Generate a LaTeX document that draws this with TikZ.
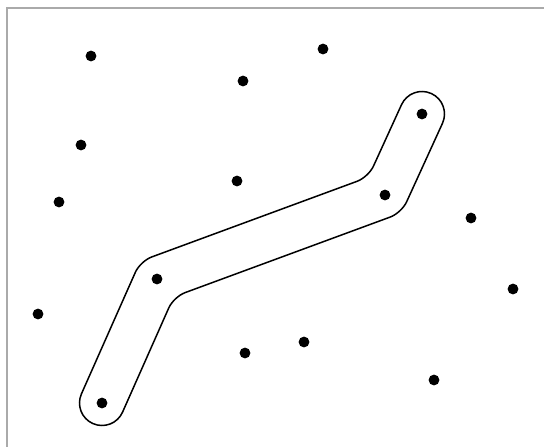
\documentclass[tikz,border=0pt]{standalone}
\usepackage{tikz}
\usetikzlibrary{calc}
\definecolor{frameline}{RGB}{170,170,170}

\begin{document}
\begin{tikzpicture}[x=1pt,y=1pt]
	\def\r{22.5pt}
	\def\dotr{5.4}
	\useasboundingbox (0,0) rectangle (544,447);
	% frame
	\draw[frameline, line width=1.4pt] (7,0) -- (7,439) -- (544,439);

	% path points
	\coordinate (A) at (102,44);
	\coordinate (B) at (157,168);
	\coordinate (C) at (385,252);
	\coordinate (D) at (422,333);

	% offset lines, left (upper) side
	\coordinate (L1s) at ($(A)!\r!90:(B)$);
	\coordinate (L1e) at ($(B)!\r!-90:(A)$);
	\coordinate (L2s) at ($(B)!\r!90:(C)$);
	\coordinate (L2e) at ($(C)!\r!-90:(B)$);
	\coordinate (L3s) at ($(C)!\r!90:(D)$);
	\coordinate (L3e) at ($(D)!\r!-90:(C)$);
	% offset lines, right (lower) side
	\coordinate (R1s) at ($(A)!\r!-90:(B)$);
	\coordinate (R1e) at ($(B)!\r!90:(A)$);
	\coordinate (R2s) at ($(B)!\r!-90:(C)$);
	\coordinate (R2e) at ($(C)!\r!90:(B)$);
	\coordinate (R3s) at ($(C)!\r!-90:(D)$);
	\coordinate (R3e) at ($(D)!\r!90:(C)$);
	% corners
	\coordinate (LB) at (intersection of L1s--L1e and L2s--L2e);
	\coordinate (LC) at (intersection of L2s--L2e and L3s--L3e);
	\coordinate (RB) at (intersection of R1s--R1e and R2s--R2e);
	\coordinate (RC) at (intersection of R2s--R2e and R3s--R3e);

	% outline
	\begin{scope}[line width=1.5pt, line cap=round]
		\draw[rounded corners=12pt] (L1s) -- (LB) -- (LC) -- (L3e);
		\draw (L3e) arc[start angle=155.45, delta angle=-180, radius=\r];
		\draw[rounded corners=12pt] (R3e) -- (RC) -- (RB) -- (R1s);
		\draw (R1s) arc[start angle=-23.92, delta angle=-180, radius=\r];
	\end{scope}

	% points
	\foreach \px/\py in {91/391, 323/398, 243/366, 422/333, 81/302, 237/266,
		385/252, 59/245, 471/229, 157/168, 513/158, 38/133, 304/105, 245/94,
		434/67, 102/44}
		\fill (\px,\py) circle (\dotr);
\end{tikzpicture}
\end{document}
